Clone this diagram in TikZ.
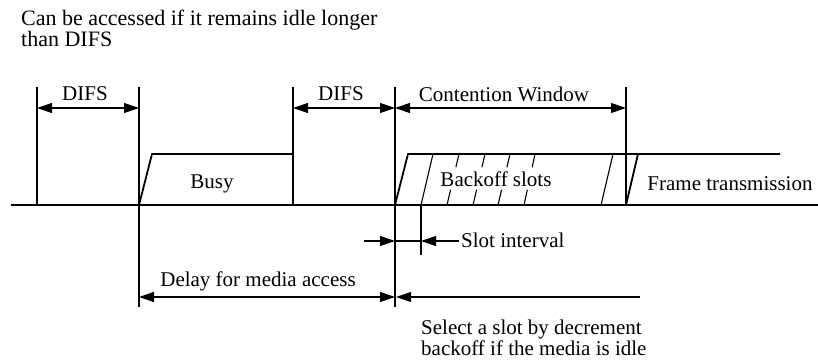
\documentclass[tikz,border=0pt]{standalone}
\usepackage{fontspec}
\setmainfont{Liberation Serif}
\usetikzlibrary{arrows.meta,calc}
\begin{document}
\begin{tikzpicture}[x=1pt,y=-1pt,
  main/.style={line width=1.8pt},
  hatch/.style={line width=1.1pt},
  dimline/.style={line width=1.2pt,{Triangle[length=15pt,width=10pt]}-{Triangle[length=15pt,width=10pt]}},
  tipline/.style={line width=1.2pt,-{Triangle[length=15pt,width=10pt]}},
  plain/.style={line width=1.2pt},
  lbl/.style={inner sep=0pt,font=\fontsize{21}{20}\selectfont}]
\useasboundingbox (0,0) rectangle (818,363);
% coordinates
\coordinate (b0) at (11,205);  \coordinate (b1) at (818,205);
\coordinate (v1t) at (37,87);   \coordinate (v1b) at (37,205);
\coordinate (v2t) at (139,87);  \coordinate (v2b) at (139,307);
\coordinate (v3t) at (293,87);  \coordinate (v3b) at (293,205);
\coordinate (v4t) at (395,87);  \coordinate (v4b) at (395,307);
\coordinate (v5t) at (626,87);  \coordinate (v5b) at (626,205);
\coordinate (s1t) at (421,205); \coordinate (s1b) at (421,255);
% baseline and verticals
\draw[main] (b0) -- (b1);
\draw[main] (v1t) -- (v1b);
\draw[main] (v2t) -- (v2b);
\draw[main] (v3t) -- (v3b);
\draw[main] (v4t) -- (v4b);
\draw[main] (v5t) -- (v5b);
\draw[plain] (s1t) -- (s1b);
% busy
\draw[main] (139,205) -- (152,154) -- (293,154);
% backoff / frame
\draw[main] (395,205) -- (408,154) -- (780,154);
\draw[main] (626,205) -- (638,154);
% hatch lines
\draw[hatch] (433,154) -- (421,205);
\foreach \t/\b in {459/447,485/473,510/498,535/524}{
  \draw[hatch] (\t,154) -- ($(\t,154)!0.26!(\b,205)$);
  \draw[hatch] ($(\t,154)!0.7!(\b,205)$) -- (\b,205);
}
\draw[hatch] (613,154) -- (601,205);
% dimension arrows
\coordinate (d1a) at (37,108);  \coordinate (d1b) at (139,108);
\coordinate (d2a) at (293,108); \coordinate (d2b) at (395,108);
\coordinate (d3a) at (395,108); \coordinate (d3b) at (626,108);
\draw[dimline] (d1a) -- (d1b);
\draw[dimline] (d2a) -- (d2b);
\draw[dimline] (d3a) -- (d3b);
% slot interval
\coordinate (si0) at (364,241); \coordinate (si1) at (395,241);
\coordinate (si2) at (421,241); \coordinate (si3) at (459,241);
\draw[tipline] (si0) -- (si1);
\draw[plain] (si1) -- (si2);
\draw[tipline] (si3) -- (si2);
% delay
\coordinate (dl0) at (139,297); \coordinate (dl1) at (395,297);
\coordinate (dl2) at (640,297); \coordinate (dl3) at (396,297);
\draw[dimline] (dl0) -- (dl1);
\draw[tipline] (dl2) -- (dl3);
% labels
\node[lbl,anchor=west,align=left,font=\fontsize{22}{20}\selectfont] (top) at (21,28) {Can be accessed if it remains idle longer\\than DIFS};
\node[lbl] (difs1) at (85,94) {DIFS};
\node[lbl] (difs2) at (341,94) {DIFS};
\node[lbl] (cw) at (504,94) {Contention Window};
\node[lbl] (busy) at (212,184) {Busy};
\node[lbl] (bo) at (496,179) {Backoff slots};
\node[lbl] (ft) at (730,184) {Frame transmission};
\node[lbl,anchor=west] (slot) at (461,240) {Slot interval};
\node[lbl] (delay) at (258,281) {Delay for media access};
\node[lbl,anchor=north west,align=left,font=\fontsize{21}{19}\selectfont] (sel) at (421,320) {Select a slot by decrement\\backoff if the media is idle};
\end{tikzpicture}
\end{document}
